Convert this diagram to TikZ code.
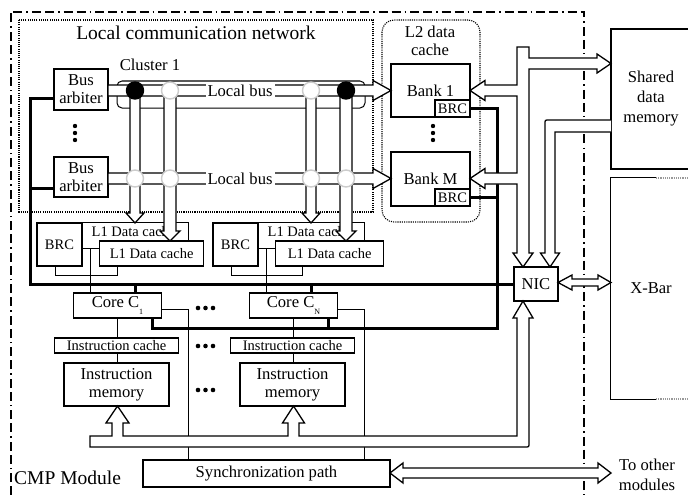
\documentclass[tikz,border=0pt]{standalone}
\usepackage{fontspec}
\setmainfont{Liberation Serif}

\begin{document}
\begin{tikzpicture}[x=1pt,y=-1pt,
  box/.style={draw,line width=1.3pt,fill=white,inner sep=0pt,align=center,
              font=\fontsize{16.6}{18}\selectfont},
  sbox/.style={box,font=\fontsize{14.5}{16}\selectfont},
  txt/.style={inner sep=0pt,align=center,font=\fontsize{16.6}{18}\selectfont},
  bigtxt/.style={inner sep=0pt,font=\fontsize{19.5}{22}\selectfont},
  pipe/.style={draw,line width=1.3pt,fill=white},
  wire/.style={line width=1pt},
  thickline/.style={line width=3pt},
  dotline/.style={line width=1.1pt,dash pattern=on 1.1pt off 1.1pt},
  tap/.style={circle,draw=black!20,line width=1.4pt,fill=white,
              minimum size=17pt,inner sep=0pt},
  dtap/.style={tap,draw=black,fill=black}]
  \useasboundingbox (0,0) rectangle (688,495);
  \clip (0,0) rectangle (688,495);

  % module outline, the two dotted groups and the cluster frame
  \draw[line width=1.3pt,dash pattern=on 9pt off 4pt on 9pt off 4pt on 1.5pt off 4pt]
    (11,495) -- (11,12) -- (584,12) -- (584,495);
  \draw[dotline] (19,20) rectangle (373,212);
  \draw[dotline,rounded corners=12pt] (382,20) rectangle (480,222);
  \draw[wire,rounded corners=5pt] (117,81) rectangle (365,108);
  \node[bigtxt] (lcn) at (196,33) {Local communication network};
  \node[txt] (l2) at (430,41) {L2 data\\cache};
  \node[txt] (cluster) at (150,65) {Cluster 1};
  \node[bigtxt,anchor=west] (cmp) at (14,478) {CMP Module};

  % arbiters, banks and the blocks outside the module
  \node[box,minimum width=54pt,minimum height=41pt] (arbA) at (81,89.5) {Bus\\arbiter};
  \node[box,minimum width=54pt,minimum height=40pt] (arbB) at (81,177) {Bus\\arbiter};
  \node[box,minimum width=79pt,minimum height=53pt] (bankA) at (430.5,90.5) {Bank 1};
  \node[sbox,minimum width=35pt,minimum height=17pt,anchor=south east] (brcA)
    at (bankA.south east) {BRC};
  \node[box,minimum width=79pt,minimum height=54pt] (bankM) at (430.5,179) {Bank M};
  \node[sbox,minimum width=35pt,minimum height=17pt,anchor=south east] (brcM)
    at (bankM.south east) {BRC};
  \node[box,minimum width=80pt,minimum height=140pt,font=\fontsize{16.6}{20}\selectfont]
    (shmem) at (651,99) {Shared\\data\\memory};
  \node[txt,minimum width=80pt,minimum height=221pt] (xbar) at (651,288.5) {X-Bar};
  \draw[line width=1.3pt] (xbar.north west) ++(45,0) -- (xbar.north west)
    -- (xbar.south west) -- ++(45,0);
  \draw[dotline,black!40] (656,178) -- (688,178) (656,399) -- (688,399);
  \node[box,minimum width=44pt,minimum height=34pt] (nic) at (536,284) {NIC};
  \node[box,minimum width=247pt,minimum height=27pt] (sync) at (266.5,473.5)
    {Synchronization path};
  \node[txt,font=\fontsize{16.6}{20}\selectfont] (other) at (647,475) {To other\\modules};

  \foreach \y in {126,133,140}
    \fill (75,\y) circle[radius=2.2pt] (433,\y) circle[radius=2.2pt];
  \foreach \y in {308,346,390}
    \foreach \x in {198,205.5,213} \fill (\x,\y) circle[radius=2.3pt];

  % one column per core: L1 caches, core, instruction side
  \foreach \g/\dx/\fw/\ux in {1/0/104/117,N/176/108/126}{
    \begin{scope}[xshift=\dx pt]
      \node[sbox,minimum width=45pt,minimum height=43pt] (brc\g) at (59.5,244.5) {BRC};
      \draw[line width=1.3pt] (brc\g.north east) -- ++(106,0) -- ++(0,18);
      \node[sbox,draw=none,fill=none,anchor=west] (lback\g) at (91,232) {L1 Data cache};
      \node[sbox,minimum width=\fw pt,minimum height=25pt,anchor=west] (lfront\g)
        at (99,253.5) {L1 Data cache};
      \node[box,minimum width=88pt,minimum height=25pt] (core\g) at (117.5,305.5)
        {Core C\raisebox{-.8ex}{\fontsize{8}{8}\selectfont\g}};
      \node[sbox,minimum width=124pt,minimum height=15pt] (ic\g) at (116.5,345.5)
        {Instruction cache};
      \node[box,minimum width=105pt,minimum height=43pt] (im\g) at (116.5,384.5)
        {Instruction\\memory};
      \draw[wire] (brc\g.east |- 0,248) -- (lfront\g.west |- 0,248)
                  (90,248) -- (core\g.north -| 90,0);
      \draw[wire] (brc\g.south -| 55,0) -- (55,275) -- (\ux,275) -- (lfront\g.south -| \ux,0);
      \draw[wire] (core\g.south) -- (ic\g.north -| core\g.south)
                  (ic\g.south -| core\g.south) -- (im\g.north -| core\g.south);
      \draw[wire] (core\g.east |- 0,309) -- (188,309) -- (sync.north -| 188,0);
    \end{scope}}

  % thick control lines
  \draw[thickline] (arbA.west |- 0,98) -- (30,98) -- (30,284) -- (nic.west);
  \draw[thickline] (arbB.west |- 0,188) -- (30,188);
  \draw[thickline] ([xshift=17.5pt]core1.north) -- ++(0,-9)
                   ([xshift=17.5pt]coreN.north) -- ++(0,-9);
  \draw[thickline] (brcA.east) -- (brcA.east -| 497,0) -- (497,328) -- (152,328)
    -- (core1.south -| 152,0);
  \draw[thickline] (brcM.east) -- (brcM.east -| 497,0);
  \draw[thickline] (core1.south -| 328,0) -- (328,328);

  % local buses
  \foreach \y in {90.5,178.5}
    \draw[pipe] (108,\y-5.5) -- (373,\y-5.5) -- (373,\y-10) -- (391,\y)
      -- (373,\y+10) -- (373,\y+5.5) -- (108,\y+5.5) -- cycle;
  \foreach \x/\w/\h/\tip in {135/5/9/223,170/6/10/241,311/5/9/223,346/6/10/241}
    \draw[pipe] (\x-\w,90) -- (\x-\w,\tip-10) -- (\x-\h,\tip-10) -- (\x,\tip)
      -- (\x+\h,\tip-10) -- (\x+\w,\tip-10) -- (\x+\w,90) -- cycle;
  \foreach \x/\s in {135/dtap,170/tap,311/tap,346/dtap}{
    \node[\s] (ta\x) at (\x,90.5) {};
    \node[tap] (tb\x) at (\x,178.5) {};}
  \node[txt,fill=white,inner xsep=2pt,inner ysep=1pt] (lbA) at (240,90.5) {Local bus};
  \node[txt,fill=white,inner xsep=2pt,inner ysep=1pt] (lbB) at (240,178.5) {Local bus};

  % data paths around the NIC
  \draw[pipe] (517,47) -- (529,47) -- (529,58) -- (597,58) -- (597,54) -- (611,63.5)
    -- (597,73) -- (597,69) -- (529,69) -- (529,253) -- (533,253) -- (523,267)
    -- (513,253) -- (517,253) -- (517,184) -- (485,184) -- (485,188.5) -- (470,178.5)
    -- (485,168.5) -- (485,173) -- (517,173) -- (517,96) -- (485,96) -- (485,100.5)
    -- (470,90.5) -- (485,80.5) -- (485,85) -- (517,85) -- cycle;
  \draw[pipe] (611,132) -- (555,132) -- (555,253) -- (559.5,253) -- (550,267)
    -- (540.5,253) -- (545,253) -- (545,124) .. controls (545,120) .. (549,120) -- (611,120);
  \draw[pipe] (90,436) -- (112,436) -- (112,423) -- (106,423) -- (117.5,406)
    -- (129,423) -- (123,423) -- (123,436) -- (288,436) -- (288,423) -- (282.5,423)
    -- (293.5,406) -- (304.5,423) -- (299,423) -- (299,436) -- (517,436) -- (517,318)
    -- (513,318) -- (523,301) -- (533,318) -- (529,318) -- (529,443)
    .. controls (529,447) .. (525,447) -- (90,447) -- cycle;
  \draw[pipe] (558,282.5) -- (572,275) -- (572,279) -- (598,279) -- (598,275)
    -- (611,282.5) -- (598,290) -- (598,286) -- (572,286) -- (572,290) -- cycle;
  \draw[pipe] (390,473) -- (403,463) -- (403,468) -- (598,468) -- (598,463)
    -- (611,473) -- (598,483) -- (598,478) -- (403,478) -- (403,483) -- cycle;
\end{tikzpicture}
\end{document}
